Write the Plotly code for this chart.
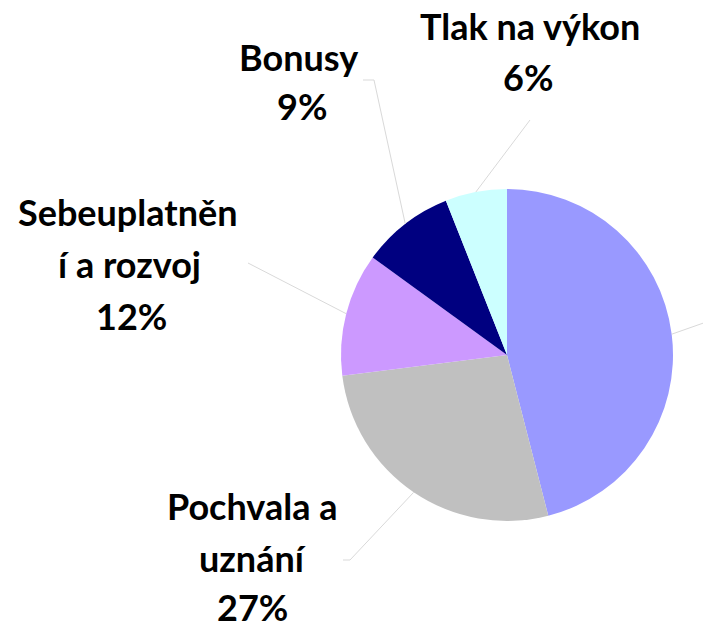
import math
import plotly.graph_objects as go

W, H = 703, 628

categories = ["Finanční ohodnocení", "Pochvala a uznání", "Sebeuplatnění a rozvoj", "Bonusy", "Tlak na výkon"]
values = [46, 27, 12, 9, 6]
colors = ["#9999FF", "#C0C0C0", "#CC99FF", "#000080", "#CCFFFF"]

# label text lines and their layout positions (pixels)
label_lines = [
    [],  # first slice's label lies outside the picture
    [("Pochvala a", 252, 506), ("uznání", 252, 558), ("27%", 252, 607)],
    [("Sebeuplatněn", 128, 212), ("í a rozvoj", 129, 264), ("12%", 131, 316)],
    [("Bonusy", 298, 57), ("9%", 302, 106)],
    [("Tlak na výkon", 530, 26), ("6%", 528, 77)],
]
# leader-line outer points (pixels), from label towards slice
leader_outer = [
    [(712, 320)],
    [(343, 560), (350, 560)],
    [(248, 263)],
    [(363, 80), (374, 80)],
    [(530, 120)],
]

cx, cy, R = 507, 355, 166

fig = go.Figure(go.Pie(
    labels=categories, values=values, sort=False, direction="clockwise", rotation=0,
    marker=dict(colors=colors, line=dict(width=0)),
    textinfo="none", hoverinfo="label+percent", showlegend=False,
    domain=dict(x=[(cx - R) / W, (cx + R) / W], y=[1 - (cy + R) / H, 1 - (cy - R) / H]),
))

def px(x, y):
    return x / W, 1 - y / H

annotations = []
shapes = []
total = sum(values)
cum = 0
for i, v in enumerate(values):
    mid = (cum + v / 2) / total * 2 * math.pi
    cum += v
    ex, ey = cx + R * math.sin(mid), cy - R * math.cos(mid)
    pts = leader_outer[i] + [(ex, ey)]
    for (x0, y0), (x1, y1) in zip(pts[:-1], pts[1:]):
        a, b = px(x0, y0)
        c, d = px(x1, y1)
        shapes.append(dict(type="line", xref="paper", yref="paper", x0=a, y0=b, x1=c, y1=d,
                           line=dict(color="#D9D9D9", width=1)))
    for text, x, y in label_lines[i]:
        a, b = px(x, y)
        annotations.append(dict(text=text, x=a, y=b, xref="paper", yref="paper",
                                xanchor="center", yanchor="middle", showarrow=False,
                                font=dict(family="Lato", size=36, color="#000000", weight=700)))

fig.update_layout(
    width=W, height=H, margin=dict(l=0, r=0, t=0, b=0),
    paper_bgcolor="white", plot_bgcolor="white",
    annotations=annotations, shapes=shapes,
)
fig.write_html("out.html", config={"displayModeBar": False},
               post_script="document.body.style.margin='0';")
